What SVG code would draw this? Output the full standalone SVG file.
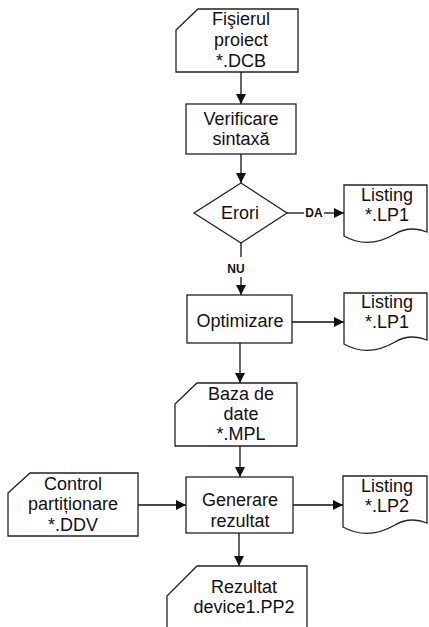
<svg xmlns="http://www.w3.org/2000/svg" width="429" height="627" viewBox="0 0 429 627">
<defs>
<marker id="ah" viewBox="0 0 10 10" refX="10" refY="5" markerWidth="10" markerHeight="10" markerUnits="userSpaceOnUse" orient="auto">
<path d="M0,0 L10,5 L0,10 Z" fill="#111"/>
</marker>
<style>
.s{fill:#fff;stroke:#222;stroke-width:1.3}
.c{fill:none;stroke:#111;stroke-width:1.3}
.t{font-family:"Liberation Sans",Arial,sans-serif;font-size:18px;fill:#111;text-anchor:middle}
.l{font-family:"Liberation Sans",Arial,sans-serif;font-size:12px;fill:#111;text-anchor:middle;font-weight:bold}
</style>
</defs>
<rect width="429" height="627" fill="#fff"/>
<g id="connectors">
<line class="c" x1="241" y1="72" x2="241" y2="104" marker-end="url(#ah)"/>
<line class="c" x1="241" y1="154" x2="241" y2="183" marker-end="url(#ah)"/>
<line class="c" x1="287" y1="213" x2="304" y2="213"/>
<line class="c" x1="324" y1="213" x2="344" y2="213" marker-end="url(#ah)"/>
<text class="l" x="314" y="217">DA</text>
<line class="c" x1="241" y1="243" x2="241" y2="257"/>
<line class="c" x1="241" y1="277" x2="241" y2="295" marker-end="url(#ah)"/>
<text class="l" x="236" y="273">NU</text>
<line class="c" x1="292" y1="322" x2="344" y2="322" marker-end="url(#ah)"/>
<line class="c" x1="240" y1="343" x2="240" y2="383" marker-end="url(#ah)"/>
<line class="c" x1="240" y1="446" x2="240" y2="477" marker-end="url(#ah)"/>
<line class="c" x1="138" y1="505" x2="186" y2="505" marker-end="url(#ah)"/>
<line class="c" x1="293" y1="505" x2="343" y2="505" marker-end="url(#ah)"/>
<line class="c" x1="239" y1="533" x2="239" y2="566" marker-end="url(#ah)"/>
</g>
<g id="fisier">
<path class="s" d="M176,30 L198,9 H298 V72 H176 Z"/>
<text class="t" x="241" y="25">Fişierul</text>
<text class="t" x="241" y="46">proiect</text>
<text class="t" x="241" y="67">*.DCB</text>
</g>
<g id="verificare">
<rect class="s" x="186" y="104" width="110" height="50"/>
<text class="t" x="241" y="125">Verificare</text>
<text class="t" x="241" y="145">sintaxă</text>
</g>
<g id="erori">
<polygon class="s" points="241,183 287,213 241,243 194,213"/>
<text class="t" x="240" y="219">Erori</text>
</g>
<g id="listing1">
<path class="s" d="M344,185 H427 V232 C417,228 405,228 395,234 C383,241 365,248 344,236 Z"/>
<text class="t" x="387" y="201">Listing</text>
<text class="t" x="387" y="221">*.LP1</text>
</g>
<g id="optimizare">
<rect class="s" x="187" y="295" width="105" height="48"/>
<text class="t" x="240" y="327">Optimizare</text>
</g>
<g id="listing2">
<path class="s" d="M344,293 H427 V340 C417,336 405,336 395,342 C383,349 365,356 344,344 Z"/>
<text class="t" x="387" y="308">Listing</text>
<text class="t" x="387" y="328">*.LP1</text>
</g>
<g id="baza">
<path class="s" d="M175,404 L197,383 H297 V446 H175 Z"/>
<text class="t" x="241" y="400">Baza de</text>
<text class="t" x="241" y="420">date</text>
<text class="t" x="241" y="440">*.MPL</text>
</g>
<g id="control">
<path class="s" d="M8,493 L30,473 H138 V536 H8 Z"/>
<text class="t" x="73" y="490">Control</text>
<text class="t" x="73" y="510">partiționare</text>
<text class="t" x="73" y="531">*.DDV</text>
</g>
<g id="generare">
<rect class="s" x="186" y="477" width="107" height="56"/>
<text class="t" x="240" y="506">Generare</text>
<text class="t" x="240" y="527">rezultat</text>
</g>
<g id="listing3">
<path class="s" d="M343,476 H427 V523 C417,519 405,519 395,525 C383,532 365,539 343,527 Z"/>
<text class="t" x="387" y="492">Listing</text>
<text class="t" x="387" y="512">*.LP2</text>
</g>
<g id="rezultat">
<path class="s" d="M167,640 V596 L197,566 H307 V640"/>
<text class="t" x="244" y="593">Rezultat</text>
<text class="t" x="244" y="613">device1.PP2</text>
</g>
</svg>
